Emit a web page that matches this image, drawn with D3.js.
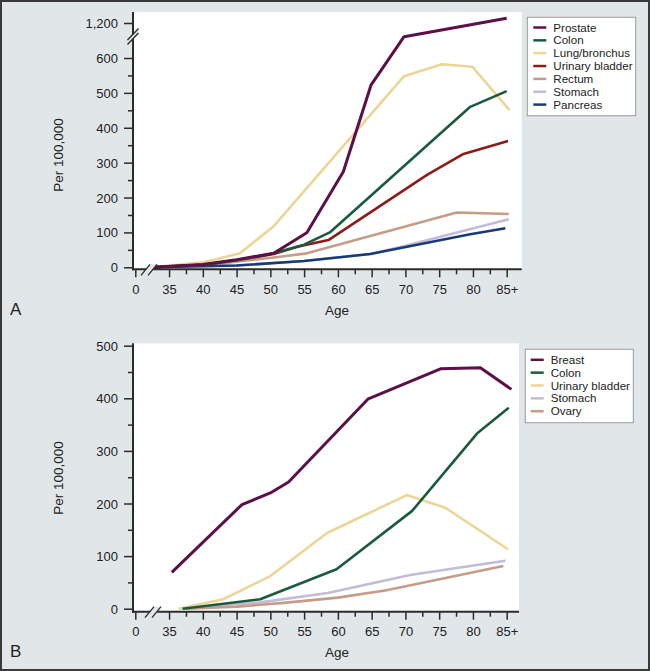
<!DOCTYPE html>
<html>
<head>
<meta charset="utf-8">
<script src="https://cdn.jsdelivr.net/npm/d3@7"></script>
<style>
  html, body { margin: 0; padding: 0; background: #e1e6e9; }
  svg { display: block; font-family: 'Liberation Sans', Arial, sans-serif; }
</style>
</head>
<body>
<svg id="chart" width="650" height="671"></svg>
<script>
// x axis (shared)
const xTickAges = [30, 35, 40, 45, 50, 55, 60, 65, 70, 75, 80, 85];
const xTickLabels = ['0', '35', '40', '45', '50', '55', '60', '65', '70', '75', '80', '85+'];
const xMinorAges = [37.5, 42.5, 47.5, 52.5, 57.5, 62.5, 67.5, 72.5, 77.5, 82.5];

// panel A
const yTicksA = [0, 100, 200, 300, 400, 500, 600, 1200];
const yTickLabelsA = ['0', '100', '200', '300', '400', '500', '600', '1,200'];
const yMinorA = [50, 150, 250, 350, 450, 550];
const namesA = ['Prostate', 'Colon', 'Lung/bronchus', 'Urinary bladder', 'Rectum', 'Stomach', 'Pancreas'];
const colorsA = ['#5b1047', '#1c5a3d', '#ecd596', '#8c1c18', '#c49c88', '#c3bbd7', '#183b78'];

const prostateAge = [32.5, 40, 45, 50.5, 55.4, 60.8, 64.9, 69.8, 85];
const prostateVal = [0, 8, 22, 40, 99, 274, 522, 965, 1280];
const colonAAge = [32.5, 40, 45, 50.5, 55, 58.8, 79.6, 85];
const colonAVal = [0, 7, 20, 40, 65, 100, 460, 505];
const lungAge = [32.5, 40, 45.5, 50.5, 69.8, 75.4, 79.9, 85.4];
const lungVal = [0, 14, 40, 118, 548, 582, 575, 451];
const bladderAAge = [32.5, 40, 45, 50.5, 54, 58.6, 73.2, 78.6, 85.2];
const bladderAVal = [0, 7, 20, 38, 59, 78, 265, 325, 362];
const rectumAge = [32.5, 40, 45, 50.5, 55.4, 77.6, 85.3];
const rectumVal = [0, 6, 16, 28, 40, 157, 153];
const stomachAAge = [32.5, 45, 55, 64.8, 70, 85.3];
const stomachAVal = [0, 5, 18, 38, 62, 138];
const pancreasAge = [32.5, 45, 55, 64.8, 79.6, 84.8];
const pancreasVal = [0, 5, 18, 38, 95, 112];

// panel B
const yTicksB = [0, 100, 200, 300, 400, 500];
const yMinorB = [50, 150, 250, 350, 450];
const namesB = ['Breast', 'Colon', 'Urinary bladder', 'Stomach', 'Ovary'];
const colorsB = ['#5b1047', '#1c5a3d', '#ecd596', '#c3bbd7', '#c49c88'];

const breastAge = [35.4, 45.8, 50, 52.7, 64.5, 75.2, 81.1, 85.7];
const breastVal = [69, 198, 220, 241, 399, 456, 458, 417];
const colonBAge = [37, 48.5, 59.8, 71, 80.6, 85.3];
const colonBVal = [0, 18, 75, 186, 333, 382];
const bladderBAge = [36.4, 43, 50, 58.4, 70.2, 75.9, 85.2];
const bladderBVal = [0, 18, 62, 144, 216, 192, 113];
const stomachBAge = [37, 42, 48.5, 58.5, 70.7, 84.8];
const stomachBVal = [0, 6, 12, 30, 64, 91];
const ovaryAge = [37.5, 45, 52, 60, 67.2, 84.5];
const ovaryVal = [0, 4, 11, 21, 35, 81];

const svg = d3.select('#chart');
const bg = '#e1e6e9';
const ink = '#2b2b2b';

svg.append('rect').attr('x', 0).attr('y', 0).attr('width', 650).attr('height', 671).attr('fill', bg);

const x = d3.scaleLinear().domain([30, 85]).range([135.3, 506.7]);

function zip(a, v) { return a.map((d, i) => [d, v[i]]); }

function panel(cfg) {
  let g = svg.append('g');
  let y = cfg.y;

  // plot area
  g.append('rect')
    .attr('x', 133).attr('y', cfg.top)
    .attr('width', cfg.right - 133).attr('height', cfg.axisY - cfg.top)
    .attr('fill', '#fff');

  // lines
  let line = d3.line().x(d => x(d[0])).y(d => y(d[1]));
  g.selectAll('.series').data(cfg.series).join('path')
    .attr('class', 'series')
    .attr('d', d => line(d.pts))
    .attr('fill', 'none')
    .attr('stroke', d => d.color)
    .attr('stroke-width', d => d.w)
    .attr('stroke-linejoin', 'round');

  // y axis ticks
  let ya = g.append('g').attr('transform', 'translate(133,0)')
    .call(d3.axisLeft(y).tickValues(cfg.yTicks).tickSize(9).tickSizeOuter(0)
      .tickFormat((d, i) => cfg.yLabels[i]));
  ya.select('.domain').remove();
  ya.selectAll('line').attr('stroke', ink).attr('stroke-width', 1.5);
  ya.selectAll('text').attr('font-size', 13).attr('fill', '#222').attr('x', -15)
    .attr('dy', '0.35em');
  let ym = g.append('g').attr('transform', 'translate(133,0)')
    .call(d3.axisLeft(y).tickValues(cfg.yMinor).tickSize(5).tickFormat(''));
  ym.select('.domain').remove();
  ym.selectAll('line').attr('stroke', ink).attr('stroke-width', 1.5);

  // x axis ticks
  let xa = g.append('g').attr('transform', `translate(0,${cfg.axisY})`)
    .call(d3.axisBottom(x).tickValues(xTickAges).tickSize(8).tickSizeOuter(0)
      .tickFormat((d, i) => xTickLabels[i]));
  xa.select('.domain').remove();
  xa.selectAll('line').attr('stroke', ink).attr('stroke-width', 1.5);
  xa.selectAll('text').attr('font-size', 13).attr('fill', '#222').attr('y', 20)
    .attr('dy', '0.35em');
  let xm = g.append('g').attr('transform', `translate(0,${cfg.axisY})`)
    .call(d3.axisBottom(x).tickValues(xMinorAges).tickSize(5).tickFormat(''));
  xm.select('.domain').remove();
  xm.selectAll('line').attr('stroke', ink).attr('stroke-width', 1.5);

  // axis lines
  g.append('line').attr('x1', 133).attr('x2', 133).attr('y1', cfg.top).attr('y2', cfg.axisY + 1)
    .attr('stroke', ink).attr('stroke-width', 2);
  g.append('line').attr('x1', 132).attr('x2', cfg.right).attr('y1', cfg.axisY).attr('y2', cfg.axisY)
    .attr('stroke', ink).attr('stroke-width', 2);

  // x break
  let bx = cfg.breakX, by = cfg.axisY;
  g.append('polygon')
    .attr('points', `${bx},${by + 6} ${bx + 7},${by + 6} ${bx + 15},${by - 5} ${bx + 8},${by - 5}`)
    .attr('fill', bg);
  g.selectAll('.xbrk').data([0, 7]).join('line')
    .attr('class', 'xbrk')
    .attr('x1', d => bx + d - 1).attr('y1', by + 6)
    .attr('x2', d => bx + d + 8).attr('y2', by - 5)
    .attr('stroke', ink).attr('stroke-width', 1.3);

  // y break
  if (cfg.yBreak) {
    let yb = cfg.yBreak;
    g.append('polygon')
      .attr('points', `128,${yb + 7} 128,${yb + 3} 138,${yb - 8} 138,${yb - 4}`)
      .attr('fill', bg);
    g.selectAll('.ybrk').data([0, 4.5]).join('line')
      .attr('class', 'ybrk')
      .attr('x1', 127.5).attr('y1', d => yb + 7.5 - d)
      .attr('x2', 138.5).attr('y2', d => yb - 4 - d)
      .attr('stroke', ink).attr('stroke-width', 1.3);
  }

  // labels
  g.append('text')
    .attr('transform', `translate(58.5,${cfg.yLabelY}) rotate(-90)`)
    .attr('text-anchor', 'middle').attr('dy', '0.35em')
    .attr('font-size', 13.5).attr('fill', '#222')
    .text('Per 100,000');
  g.append('text')
    .attr('x', 337).attr('y', cfg.axisY + 41).attr('dy', '0.35em')
    .attr('text-anchor', 'middle').attr('font-size', 13.5).attr('fill', '#222')
    .text('Age');
  g.append('text')
    .attr('x', 10).attr('y', cfg.letterY)
    .attr('font-size', 17).attr('fill', '#222')
    .text(cfg.letter);

  // legend
  let lg = cfg.legend;
  g.append('rect')
    .attr('x', lg.x).attr('y', lg.y).attr('width', lg.w).attr('height', lg.h)
    .attr('fill', '#fff').attr('stroke', '#9a9a9a').attr('stroke-width', 1);
  let items = g.selectAll('.leg').data(cfg.legendItems).join('g')
    .attr('class', 'leg')
    .attr('transform', (d, i) => `translate(0,${lg.first + i * 12.85})`);
  items.append('line')
    .attr('x1', lg.sx).attr('x2', lg.sx + 13).attr('y1', 0).attr('y2', 0)
    .attr('stroke', d => d.color).attr('stroke-width', 2.5);
  items.append('text')
    .attr('x', lg.tx).attr('y', 0).attr('dy', '0.35em')
    .attr('font-size', 11.6).attr('fill', '#222')
    .text(d => d.name);
}

// panel A
let yA = d3.scaleLinear().domain([0, 600, 1200]).range([267.3, 58, 23]);
let ptsA = [zip(prostateAge, prostateVal), zip(colonAAge, colonAVal), zip(lungAge, lungVal),
  zip(bladderAAge, bladderAVal), zip(rectumAge, rectumVal), zip(stomachAAge, stomachAVal),
  zip(pancreasAge, pancreasVal)];
let itemsA = namesA.map((n, i) => ({ name: n, color: colorsA[i], pts: ptsA[i], w: i === 0 ? 3 : 2.6 }));
let orderA = [4, 5, 6, 2, 3, 1, 0];

panel({
  y: yA, top: 12, axisY: 269.3, right: 521.7,
  yTicks: yTicksA, yLabels: yTickLabelsA, yMinor: yMinorA,
  series: orderA.map(i => itemsA[i]),
  breakX: 142, yBreak: 37,
  yLabelY: 155, letter: 'A', letterY: 315,
  legend: { x: 527.3, y: 17.3, w: 108.4, h: 98.4, first: 27.5, sx: 533.3, tx: 553.3 },
  legendItems: itemsA
});

// panel B
let yB = d3.scaleLinear().domain([0, 500]).range([608.7, 345.7]);
let ptsB = [zip(breastAge, breastVal), zip(colonBAge, colonBVal), zip(bladderBAge, bladderBVal),
  zip(stomachBAge, stomachBVal), zip(ovaryAge, ovaryVal)];
let itemsB = namesB.map((n, i) => ({ name: n, color: colorsB[i], pts: ptsB[i], w: i === 0 ? 3 : 2.6 }));
let orderB = [3, 4, 2, 1, 0];

panel({
  y: yB, top: 343.3, axisY: 611.7, right: 519,
  yTicks: yTicksB, yLabels: yTicksB.map(String), yMinor: yMinorB,
  series: orderB.map(i => itemsB[i]),
  breakX: 146, yBreak: null,
  yLabelY: 478, letter: 'B', letterY: 657,
  legend: { x: 525.3, y: 349.3, w: 108, h: 73.4, first: 359.8, sx: 530.7, tx: 550.7 },
  legendItems: itemsB
});

// outer frame
svg.append('rect').attr('x', 1).attr('y', 1).attr('width', 648).attr('height', 669)
  .attr('fill', 'none').attr('stroke', '#3a3a3a').attr('stroke-width', 2);
</script>
</body>
</html>
